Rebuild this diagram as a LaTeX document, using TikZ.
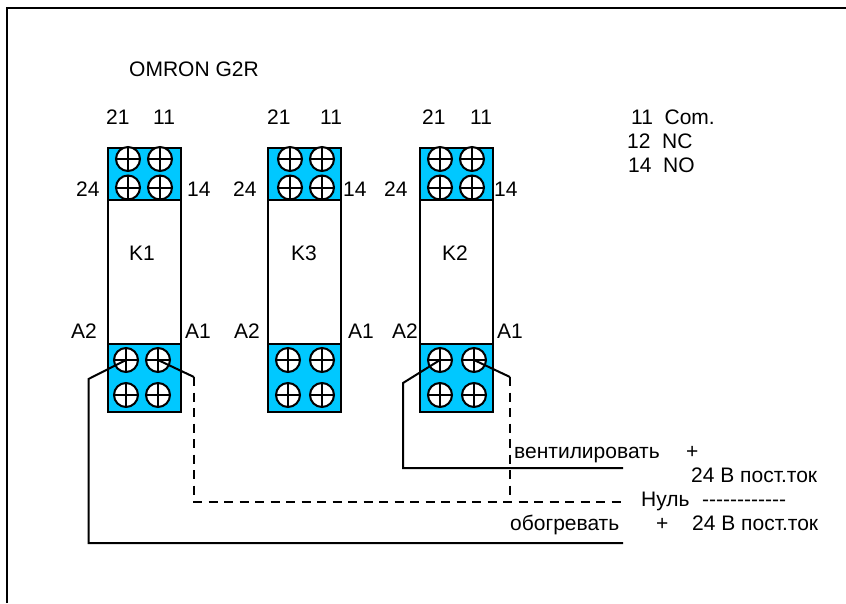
\documentclass[tikz,border=0pt]{standalone}
\usepackage{fontspec}
\setmainfont{Liberation Sans}
\usetikzlibrary{positioning}
\definecolor{blockblue}{RGB}{0,200,255}
\tikzset{
  lbl/.style={inner sep=0pt,anchor=base west,font=\fontsize{21}{21}\selectfont},
  block/.style={draw,line width=1.8pt,fill=blockblue,minimum width=73pt,inner sep=0pt,outer sep=0pt},
  body/.style={draw,line width=1.8pt,fill=white,minimum width=73pt,minimum height=144pt,inner sep=0pt,outer sep=0pt},
  screw/.style={circle,draw,line width=2pt,fill=white,minimum size=24pt,inner sep=0pt,
    path picture={\draw[line width=2pt] (path picture bounding box.north) -- (path picture bounding box.south)
      (path picture bounding box.west) -- (path picture bounding box.east);}},
  wire/.style={line width=2pt},
  dashwire/.style={line width=2pt,dash pattern=on 9pt off 6.5pt}
}
% #1 name, #2 left edge, #3 #4 top screws dx, #5 #6 lower screws dx
\newcommand{\relay}[6]{
  \node[body,anchor=north west] (#1body) at (#2,200) {};
  \node[block,minimum height=52pt,anchor=south west] (#1top) at (#2,200) {};
  \node[block,minimum height=68pt,anchor=north west] (#1bot) at (#2,344) {};
  \node[screw] (#1t21) at (#2+#3,159) {};
  \node[screw] (#1t11) at (#2+#4,159) {};
  \node[screw] (#1t24) at (#2+#3,187.5) {};
  \node[screw] (#1t14) at (#2+#4,187.5) {};
  \node[screw] (#1a2) at (#2+#5,360) {};
  \node[screw] (#1a1) at (#2+#6,360) {};
  \node[screw] (#1b2) at (#2+#5,395) {};
  \node[screw] (#1b1) at (#2+#6,395) {};
}
\begin{document}
\begin{tikzpicture}[x=1pt,y=-1pt]
\useasboundingbox (0,0) rectangle (846,603);
\coordinate (frameA) at (7.3,603);
\coordinate (frameB) at (7.3,8.3);
\coordinate (frameC) at (846,8.3);
\draw[line width=2pt] (frameA) -- (frameB) -- (frameC);

\relay{kone}{108}{20}{52}{18}{50}
\relay{kthree}{268}{22}{54}{20}{54}
\relay{ktwo}{420}{20}{52}{20}{54}

% labels: name/text/x/baseline
\foreach \name/\txt/\x/\y in {
  title/OMRON G2R/129/76,
  konename/K1/129/260, konetl/21/106/124, konetr/11/153/124, konel/24/76/196, koner/14/187/196, konebl/A2/71/338, konebr/A1/185/338,
  kthreename/K3/291/260, kthreetl/21/267/124, kthreetr/11/320/124, kthreel/24/233/196, kthreer/14/343/196, kthreebl/A2/234/338, kthreebr/A1/348/338,
  ktwoname/K2/442/260, ktwotl/21/422/124, ktwotr/11/470/124, ktwol/24/384/196, ktwor/14/494/196, ktwobl/A2/392/338, ktwobr/A1/497/338,
  keycom/11\ \ Com./631/124, keync/12\ \ NC/627/148, keyno/14\ \ NO/628/172,
  vent/вентилировать/514/458, ventplus/+/686/458, ventdc/24 В пост.ток/691/482,
  zero/Нуль/641/506, zerodash/-{}-{}-{}-{}-{}-{}-{}-{}-{}-{}-{}-/702/506,
  heat/обогревать/510/530, heatplus/+/656/530, heatdc/24 В пост.ток/692/530}
  \node[lbl] (\name) at (\x,\y) {\txt};

% wires
\coordinate (bendA) at (88.5,379);
\coordinate (bendB) at (194,377);
\coordinate (bendC) at (403,383);
\coordinate (bendD) at (510,377);
\coordinate (cornerA) at (88.5,543);
\coordinate (cornerB) at (194,502);
\coordinate (cornerC) at (403,468);
\coordinate (cornerD) at (510,502);
\coordinate (endA) at (623,543);
\coordinate (endB) at (623,502);
\coordinate (endC) at (623,468);
\draw[wire] (konea2.center) -- (bendA) -- (cornerA) -- (endA);
\draw[wire] (konea1.center) -- (bendB);
\draw[dashwire] (bendB) -- (cornerB) -- (endB);
\draw[wire] (ktwoa2.center) -- (bendC) -- (cornerC) -- (endC);
\draw[wire] (ktwoa1.center) -- (bendD);
\draw[dashwire] (bendD) -- (cornerD);
\end{tikzpicture}
\end{document}
